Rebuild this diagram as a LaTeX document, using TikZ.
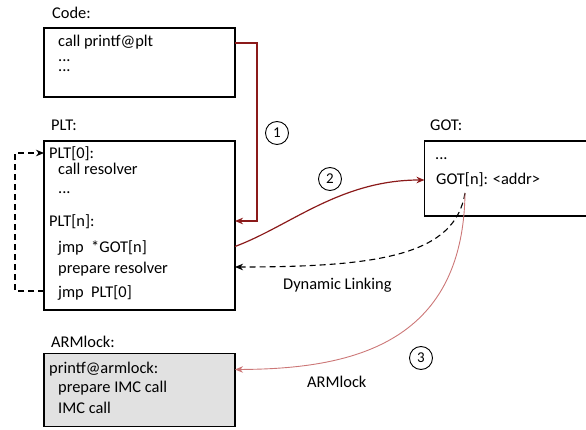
\documentclass[tikz,border=0pt]{standalone}
\usepackage{fontspec}
\setmainfont{Carlito}
\usetikzlibrary{arrows.meta}
\definecolor{darkred}{HTML}{8B1A1A}
\definecolor{lightred}{HTML}{CC7777}
\definecolor{boxgray}{HTML}{E1E1E1}
\begin{document}
\begin{tikzpicture}[x=1pt,y=-1pt,
  font=\fontsize{16.4}{19}\selectfont,
  box/.style={draw, line width=1.2pt, anchor=north west, inner sep=0pt, outer sep=0pt},
  txt/.style={anchor=base west, inner sep=0pt},
  num/.style={circle, draw, line width=0.9pt, minimum size=23pt, inner sep=0pt, font=\fontsize{15}{16}\selectfont},
  tip/.style={-{Stealth[length=8pt,width=6.5pt,inset=2.5pt]}},
  redline/.style={tip, darkred, line width=1.2pt},
  dashline/.style={tip, black, line width=1.1pt, dash pattern=on 6pt off 4pt}]
\useasboundingbox (0,0) rectangle (586,430);

% Code
\node[txt] (codelbl) at (52,19) {Code:};
\node[box, minimum width=191pt, minimum height=69pt] (code) at (44,28) {};
\node[txt] (c1) at (58,47) {call printf@plt};
\node[txt] (c2) at (58,62) {...};
\node[txt] (c3) at (58,72) {...};

% PLT
\node[txt] (pltlbl) at (51,131) {PLT:};
\node[box, minimum width=191pt, minimum height=169pt] (plt) at (44,141) {};
\node[txt] (p1) at (49,159) {PLT[0]:};
\node[txt] (p2) at (58,175) {call resolver};
\node[txt] (p3) at (58,194) {...};
\node[txt] (p4) at (49,227) {PLT[n]:};
\node[txt] (p5) at (58,253) {jmp\ \ *GOT[n]};
\node[txt] (p6) at (58,274) {prepare resolver};
\node[txt] (p7) at (58,298) {jmp\ \ PLT[0]};

% GOT
\node[txt] (gotlbl) at (430,131) {GOT:};
\node[box, minimum width=170pt, minimum height=75pt] (got) at (424.5,141) {};
\node[txt] (g1) at (435,160) {...};
\node[txt] (g2) at (436,185) {GOT[n]: <addr>};
\coordinate (gotn) at (465,193);

% ARMlock
\node[txt] (armlbl) at (51,347) {ARMlock:};
\node[box, fill=boxgray, minimum width=191pt, minimum height=73pt] (arm) at (44,353.5) {};
\node[txt] (a1) at (49,373) {printf@armlock:};
\node[txt] (a2) at (58,392) {prepare IMC call};
\node[txt] (a3) at (58,413) {IMC call};

% numbers and labels
\node[num] (n1) at (277,133) {1};
\node[num] (n2) at (330,179) {2};
\node[num] (n3) at (421,358) {3};
\node[txt] (dyn) at (283,289) {Dynamic Linking};
\node[txt] (armtxt) at (307,387) {ARMlock};

% arrows
\draw[redline] ([yshift=-15pt]code.north east) -- ++(22,0) |- ([yshift=-80pt]plt.north east);
\draw[redline] ([yshift=-105.5pt]plt.north east) .. controls (290,226) and (340,180) .. ([yshift=-39pt]got.north west);
\draw[dashline] (gotn) .. controls (455,255) and (380,267) .. ([yshift=-126pt]plt.north east);
\draw[tip, lightred, line width=0.9pt] (gotn) .. controls (463,345) and (350,369) .. ([yshift=-16pt]arm.north east);
\draw[dashline] ([yshift=19pt]plt.south west) -- ++(-29,0) |- ([yshift=-12pt]plt.north west);
\end{tikzpicture}
\end{document}
